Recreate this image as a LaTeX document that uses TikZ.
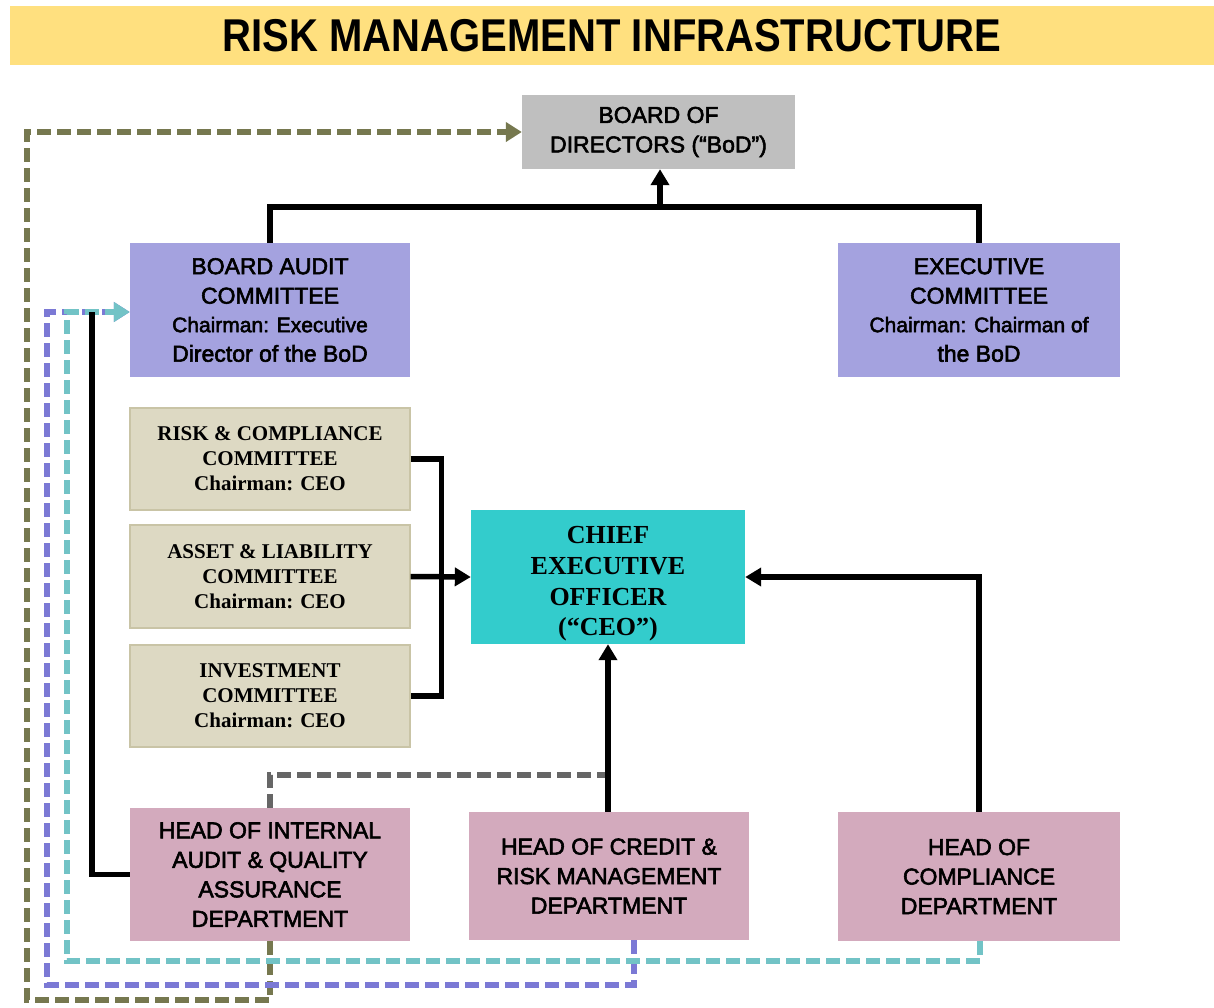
\documentclass[tikz,border=0pt]{standalone}
\usepackage{fontspec}
\setmainfont{Liberation Serif}
\newfontfamily\arialf{Liberation Sans}
\newfontfamily\arialh[FakeBold=2.5]{Liberation Sans}
\usetikzlibrary{arrows.meta,calc}
\definecolor{titley}{HTML}{FFE07F}
\definecolor{bodgray}{HTML}{BFBFBF}
\definecolor{lilac}{HTML}{A4A2DF}
\definecolor{tanbox}{HTML}{DDD9C3}
\definecolor{tanedge}{HTML}{C9C4A6}
\definecolor{ceocyan}{HTML}{33CCCC}
\definecolor{pinkbox}{HTML}{D3AABD}
\definecolor{olivedash}{HTML}{76784F}
\definecolor{purpdash}{HTML}{7B79D5}
\definecolor{cyandash}{HTML}{72C3C6}
\definecolor{graydash}{HTML}{666666}
\begin{document}
\begin{tikzpicture}[x=1pt,y=-1pt,
  box/.style={rectangle, inner sep=0pt, align=center, anchor=center},
  sansbox/.style={box, font=\arialh\fontsize{23}{29.5}\selectfont},
  serifbox/.style={box, font=\bfseries\fontsize{21}{25}\selectfont, fill=tanbox, draw=tanedge, line width=1.2pt, minimum width=280pt},
  conn/.style={line width=5.5pt, black},
  conna/.style={conn, -{Triangle[length=16pt,width=18pt]}},
  dsh/.style={line width=5.5pt, dash pattern=on 14pt off 6pt},
  dsha/.style={dsh, -{Triangle[length=16pt,width=19pt]}}]
\useasboundingbox (0,0) rectangle (1214,1007);
\fill[white] (0,0) rectangle (1214,1007);

% title
\node[box, fill=titley, minimum width=1204pt, minimum height=59pt] (title) at (612,35.5)
  {\scalebox{0.87}[1]{\arialf\bfseries\fontsize{46}{50}\selectfont RISK MANAGEMENT INFRASTRUCTURE}};

% boxes
\node[sansbox, fill=bodgray, minimum width=273pt, minimum height=74pt] (bod) at (658.5,132)
  {BOARD OF\\DIRECTORS (“BoD”)};
\node[sansbox, fill=lilac, minimum width=280pt, minimum height=134pt] (bac) at (270,310)
  {BOARD AUDIT\\COMMITTEE\\[-1pt]\fontsize{21}{27.5}\selectfont Chairman: Executive\\Director of the BoD};
\node[sansbox, fill=lilac, minimum width=282pt, minimum height=134pt] (ec) at (979,310)
  {EXECUTIVE\\COMMITTEE\\[-1pt]\fontsize{21}{27.5}\selectfont Chairman: Chairman of\\the BoD};

\node[serifbox, minimum height=102pt] (rcc) at (270,459)
  {RISK \& COMPLIANCE\\COMMITTEE\\Chairman: CEO};
\node[serifbox, minimum height=103pt] (alc) at (270,576.5)
  {ASSET \& LIABILITY\\COMMITTEE\\Chairman: CEO};
\node[serifbox, minimum height=102pt] (ic) at (270,696)
  {INVESTMENT\\COMMITTEE\\Chairman: CEO};

\node[box, fill=ceocyan, minimum width=274pt, minimum height=134pt] (ceo) at (608,577) {};
\node[box, font=\bfseries\fontsize{26}{30.7}\selectfont] (ceotxt) at ([yshift=-7pt]ceo.center)
  {CHIEF\\EXECUTIVE\\OFFICER\\(“CEO”)};

\node[sansbox, fill=pinkbox, minimum width=280pt, minimum height=133pt] (hia) at (270,874.5)
  {HEAD OF INTERNAL\\AUDIT \& QUALITY\\ASSURANCE\\DEPARTMENT};
\node[sansbox, fill=pinkbox, minimum width=280pt, minimum height=128pt] (hcr) at (609,876)
  {HEAD OF CREDIT \&\\RISK MANAGEMENT\\DEPARTMENT};
\node[sansbox, fill=pinkbox, minimum width=282pt, minimum height=129pt] (hc) at (979,876.5)
  {HEAD OF\\COMPLIANCE\\DEPARTMENT};

% coordinates
\coordinate (j1) at (660,207);
\coordinate (bk) at (92,312);
\coordinate (g1) at (608,775);

% dashed feedback lines
\draw[dsha, olivedash] (hia.south) |- (27,1000) |- (bod.west);
\draw[dsha, purpdash] ([xshift=25pt]hcr.south) |- (47,985) |- ([yshift=-2pt]bac.west);
\draw[dsha, cyandash] ([xshift=1pt]hc.south) |- (67,961) |- ([yshift=-2pt]bac.west);
\draw[dsh, graydash] (hia.north) |- (g1);

% solid connectors
\draw[conn] (bac.north) |- (j1) -| (ec.north);
\draw[conna] (j1) -- (j1 |- bod.south);
\draw[conn] (rcc.east) -- ++(31,0) |- (ic.east);
\draw[conna] (alc.east) -- (ceo.west);
\draw[conna] (hcr.north -| g1) -- (ceo.south -| g1);
\draw[conna] (hc.north) |- (ceo.east);
\draw[conn] (hia.west) -| (bk);
\end{tikzpicture}
\end{document}
